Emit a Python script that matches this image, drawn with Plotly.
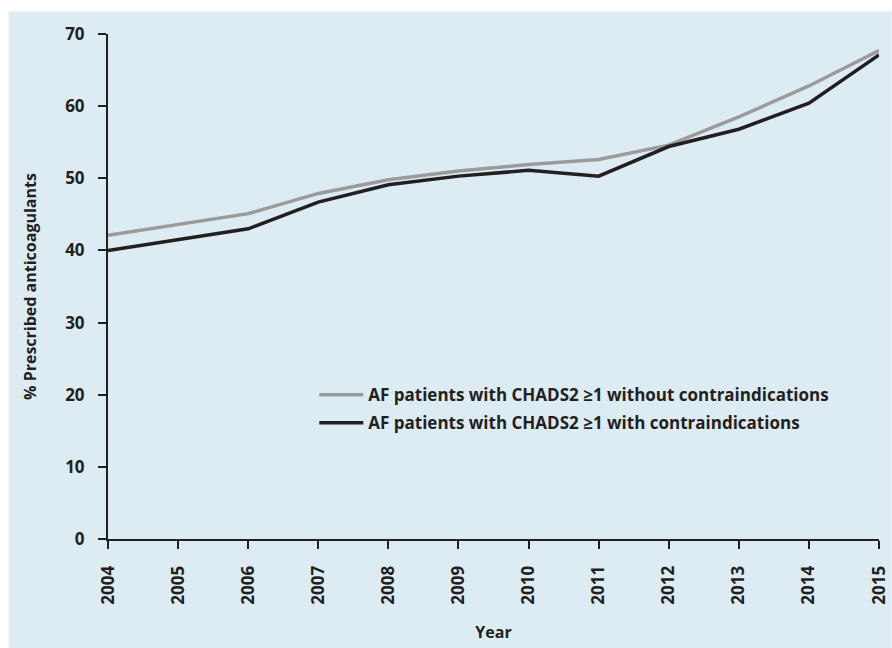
import plotly.graph_objects as go

years = [2004, 2005, 2006, 2007, 2008, 2009, 2010, 2011, 2012, 2013, 2014, 2015]
without_ci = [42.1, 43.6, 45.1, 47.9, 49.8, 51.0, 51.9, 52.6, 54.6, 58.5, 62.8, 67.7]
with_ci = [40.0, 41.5, 43.0, 46.7, 49.1, 50.3, 51.1, 50.3, 54.4, 56.8, 60.4, 67.1]
names = ["AF patients with CHADS2 ≥1 without contraindications",
         "AF patients with CHADS2 ≥1 with contraindications"]
y_ticks = [0, 10, 20, 30, 40, 50, 60, 70]

W, H = 892, 648
ml, mr, mt, mb = 107.5, 12.7, 33.5, 109
PW, PH = W - ml - mr, H - mt - mb
FAM = "Open Sans"
font = dict(family=FAM, size=17, color="#231F20", weight="bold")

fig = go.Figure()
fig.add_trace(go.Scatter(x=years, y=without_ci, mode="lines", name=names[0],
                         legendgroup="a",
                         line=dict(color="#9B9B9B", width=3.5)))
fig.add_trace(go.Scatter(x=years, y=with_ci, mode="lines", name=names[1],
                         legendgroup="b",
                         line=dict(color="#231F20", width=3.5)))

fig.add_shape(type="rect", xref="paper", yref="paper", layer="below",
              x0=(8 - ml) / PW, x1=(W - ml) / PW,
              y0=-mb / PH, y1=(H - mb - 11) / PH,
              fillcolor="#DDEBF3", line=dict(width=0))

fig.update_layout(
    width=W, height=H,
    margin=dict(l=ml, r=mr, t=mt, b=mb, pad=0),
    paper_bgcolor="white", plot_bgcolor="rgba(0,0,0,0)",
    font=font,
    showlegend=True,
    legend=dict(x=(314 - ml) / PW, y=(539 - 377) / PH,
                xanchor="left", yanchor="top", bgcolor="rgba(0,0,0,0)",
                font=dict(family=FAM, size=17, color="#231F20", weight="bold"),
                itemwidth=44, tracegroupgap=3),
    xaxis=dict(range=[2004, 2015], tickmode="array", tickvals=years,
               ticktext=[str(y) for y in years], tickangle=-90, automargin=False,
               showgrid=False, zeroline=False, showline=True, linecolor="#231F20",
               linewidth=2, ticks="outside", ticklen=8, tickwidth=2, tickcolor="#231F20",
               ticklabelstandoff=10,
               title=dict(text="Year", standoff=23,
                          font=dict(family=FAM, size=16, weight="bold"))),
    yaxis=dict(range=[0, 70], tickmode="array", tickvals=y_ticks, automargin=False,
               showgrid=False, zeroline=False, showline=True, linecolor="#231F20",
               linewidth=2, ticks="outside", ticklen=8, tickwidth=2, tickcolor="#231F20",
               ticklabelstandoff=10,
               title=dict(text="% Prescribed anticoagulants", standoff=25,
                          font=dict(family=FAM, size=16, weight="bold"))),
)

fig.write_html("out.html", config={"displayModeBar": False},
               post_script="document.body.style.margin='0';")
